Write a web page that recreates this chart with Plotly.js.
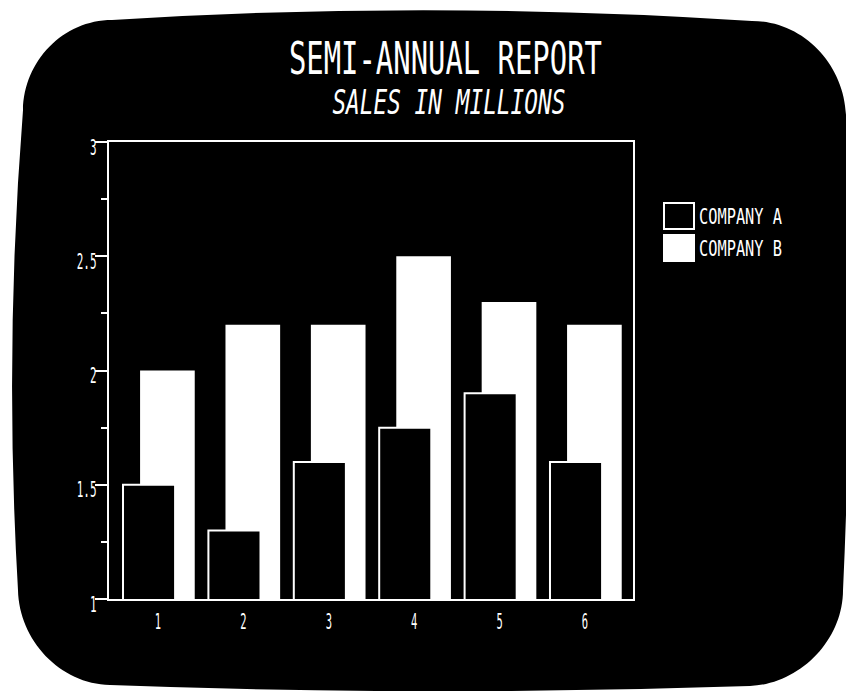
<!DOCTYPE html>
<html>
<head>
<meta charset="utf-8">
<script src="https://cdn.plot.ly/plotly-3.0.1.min.js"></script>
<style>
  html, body { margin: 0; padding: 0; background: #fff; overflow: hidden; }
  #chart { width: 846px; height: 691px; }
</style>
</head>
<body>
<div id="chart"></div>
<script>
// ---- data ----
const periods = [1, 2, 3, 4, 5, 6];
const periodLabels = ['1', '2', '3', '4', '5', '6'];
const companyA = [1.5, 1.3, 1.6, 1.75, 1.9, 1.6];
const companyB = [2.0, 2.2, 2.2, 2.5, 2.3, 2.2];
const seriesNames = ['COMPANY A', 'COMPANY B'];
const yTicks = [1, 1.5, 2, 2.5, 3];
const yTickLabels = ['1', '1.5', '2', '2.5', '3'];
const titleText = 'SEMI-ANNUAL REPORT';
const subtitleText = 'SALES IN MILLIONS';

// ---- frame geometry (pixels) ----
const W = 846, H = 691;
const M = { l: 109, r: 213, t: 142, b: 92 };
const PW = W - M.l - M.r, PH = H - M.t - M.b;
const fx = px => (px - M.l) / PW;          // pixel -> paper x
const fy = py => (H - M.b - py) / PH;      // pixel -> paper y

const FONT = '"DejaVu Sans Mono", "Liberation Mono", monospace';
const INK = '#ffffff';

// rounded screen outline, written in pixels then mapped to paper units
function screenPath() {
  const P = (x, y) => fx(x).toFixed(4) + ',' + fy(y).toFixed(4);
  return 'M' + P(112, 20) +
    ' Q' + P(430, 0) + ' ' + P(752, 21) +
    ' C' + P(803, 21) + ' ' + P(844, 64) + ' ' + P(846, 115) +
    ' Q' + P(854, 350) + ' ' + P(843, 590) +
    ' C' + P(843, 640) + ' ' + P(800, 684) + ' ' + P(750, 686) +
    ' Q' + P(430, 697) + ' ' + P(110, 685) +
    ' C' + P(60, 684) + ' ' + P(19, 640) + ' ' + P(18, 590) +
    ' Q' + P(4, 350) + ' ' + P(23, 110) +
    ' C' + P(24, 61) + ' ' + P(63, 20) + ' ' + P(112, 20) + ' Z';
}

const traceB = {
  type: 'bar', name: seriesNames[1], x: periods, y: companyB,
  width: 0.64, offset: -0.21,
  marker: { color: '#ffffff', line: { width: 0 } },
  showlegend: false, hoverinfo: 'x+y+name'
};
const traceA = {
  type: 'bar', name: seriesNames[0], x: periods, y: companyA,
  width: 0.61, offset: -0.41,
  marker: { color: '#000000', line: { color: INK, width: 2 } },
  showlegend: false, hoverinfo: 'x+y+name'
};

// legend swatches + labels
const swatchFill = ['#000000', '#ffffff'];
const legendRows = [216, 248];
const legendShapes = seriesNames.map((n, i) => ({
  type: 'rect', xref: 'paper', yref: 'paper',
  x0: fx(664), x1: fx(694), y0: fy(legendRows[i] + 13), y1: fy(legendRows[i] - 13),
  fillcolor: swatchFill[i], line: { color: INK, width: 2 }
}));
const legendLabels = seriesNames.map((n, i) => ({
  text: n, xref: 'paper', yref: 'paper', x: fx(697), y: fy(legendRows[i]),
  xanchor: 'left', yanchor: 'middle', align: 'left', showarrow: false,
  font: { family: FONT, size: 22, color: INK }
}));

const layout = {
  width: W, height: H,
  margin: M,
  paper_bgcolor: '#ffffff',
  plot_bgcolor: '#000000',
  barmode: 'overlay',
  showlegend: false,
  xaxis: {
    range: [0.426, 6.562],
    tickmode: 'array', tickvals: periods, ticktext: periodLabels,
    ticks: '', showgrid: false, zeroline: false,
    showline: true, linecolor: INK, linewidth: 2, mirror: true,
    tickfont: { family: FONT, size: 21, color: INK },
    ticklabelstandoff: 3
  },
  yaxis: {
    range: [1, 3],
    tickmode: 'array', tickvals: yTicks, ticktext: yTickLabels,
    ticks: 'outside', ticklen: 12, tickwidth: 2, tickcolor: INK,
    minor: { ticks: 'outside', ticklen: 6, tickwidth: 2, tickcolor: INK, tick0: 1, dtick: 0.25, showgrid: false },
    showgrid: false, zeroline: false,
    showline: true, linecolor: INK, linewidth: 2, mirror: true,
    tickfont: { family: FONT, size: 22, color: INK },
    ticklabelshift: 5,
    ticklabelstandoff: -6
  },
  shapes: [
    { type: 'path', xref: 'paper', yref: 'paper', path: screenPath(),
      fillcolor: '#000000', line: { width: 0 }, layer: 'below' }
  ].concat(legendShapes),
  annotations: [
    { text: titleText, xref: 'paper', yref: 'paper', x: fx(445.5), y: fy(58),
      xanchor: 'center', yanchor: 'middle', showarrow: false,
      font: { family: FONT, size: 44, color: INK } },
    { text: subtitleText, xref: 'paper', yref: 'paper', x: fx(448.5), y: fy(103),
      xanchor: 'center', yanchor: 'middle', showarrow: false,
      font: { family: FONT, size: 33, color: INK, style: 'italic' } }
  ].concat(legendLabels)
};

// narrow the monospace lettering to the condensed vector-font look
function squeeze(el, width) {
  el.setAttribute('textLength', width.toFixed(1));
  el.setAttribute('lengthAdjust', 'spacingAndGlyphs');
}
function condense() {
  const ann = document.querySelectorAll('#chart .annotation-text');
  const widths = [313, 233, 83, 83];
  ann.forEach((t, i) => { if (widths[i]) squeeze(t, widths[i]); });
  document.querySelectorAll('#chart .xtick text, #chart .ytick text').forEach(t => {
    squeeze(t, t.getComputedTextLength() * 0.5);
  });
}

Plotly.newPlot('chart', [traceB, traceA], layout, { staticPlot: true }).then(condense);
</script>
</body>
</html>
